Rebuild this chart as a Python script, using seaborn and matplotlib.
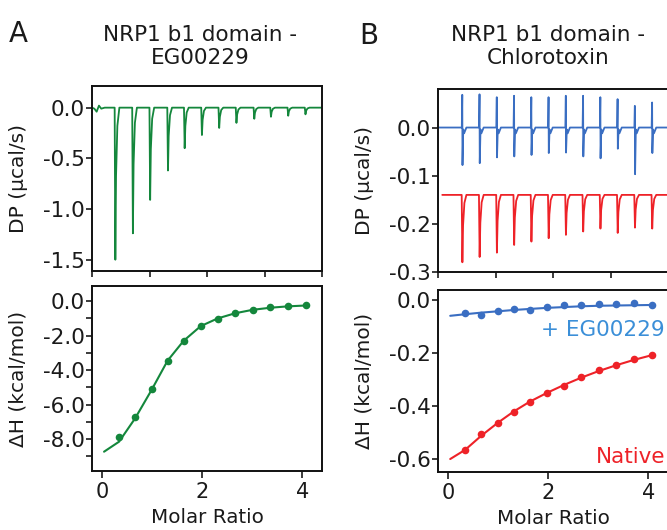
import numpy as np
import pandas as pd
import seaborn as sns
import matplotlib.pyplot as plt

# --- raw thermograms (injection time, peak values) ---
inj_time_a = [4.05, 7.1, 10.1, 13.2, 16.1, 19.1, 22.1, 25.1, 28.2, 31.1, 34.1, 37.1]
peak_a = [-1.50, -1.24, -0.91, -0.62, -0.40, -0.27, -0.20, -0.15, -0.11, -0.09, -0.08, -0.066]
start_t_a = [0.0, 0.4, 0.8, 1.2, 1.6, 2.2]
start_dp_a = [0.0, -0.01, -0.04, 0.02, -0.01, 0.0]

inj_time_b = [4.2, 7.2, 10.2, 13.2, 16.2, 19.2, 22.2, 25.2, 28.2, 31.2, 34.2, 37.2]
blue_up = [0.068, 0.069, 0.063, 0.066, 0.063, 0.063, 0.066, 0.066, 0.063, 0.059, 0.045, 0.052]
blue_down = [-0.078, -0.074, -0.062, -0.060, -0.057, -0.053, -0.052, -0.060, -0.064, -0.044, -0.097, -0.053]
red_base = -0.14
red_peak = [-0.280, -0.269, -0.260, -0.244, -0.237, -0.230, -0.223, -0.216, -0.210, -0.219, -0.208, -0.210]

# --- integrated heats ---
molar_ratio = [0.34, 0.66, 0.99, 1.31, 1.63, 1.97, 2.31, 2.66, 3.01, 3.36, 3.71, 4.07]
dh_eg = [-7.86, -6.74, -5.10, -3.49, -2.29, -1.41, -1.02, -0.67, -0.50, -0.35, -0.29, -0.23]
fit_ratio = [0.04, 0.34, 0.66, 0.99, 1.31, 1.63, 1.97, 2.31, 2.66, 3.01, 3.36, 3.71, 4.07]
fit_eg = [-8.73, -8.15, -6.80, -5.15, -3.45, -2.30, -1.45, -1.00, -0.70, -0.50, -0.38, -0.30, -0.25]

dh_native = [-0.567, -0.506, -0.465, -0.421, -0.383, -0.351, -0.322, -0.288, -0.264, -0.246, -0.221, -0.207]
fit_native = [-0.600, -0.565, -0.512, -0.463, -0.420, -0.383, -0.350, -0.320, -0.292, -0.267, -0.245, -0.225, -0.207]
dh_blocked = [-0.048, -0.054, -0.039, -0.033, -0.037, -0.023, -0.016, -0.018, -0.014, -0.015, -0.009, -0.016]
fit_blocked = [-0.058, -0.052, -0.046, -0.041, -0.036, -0.032, -0.028, -0.025, -0.022, -0.020, -0.019, -0.018, -0.017]

GREEN = "#14873c"
BLUE = "#3a6ec2"
RED = "#ee2228"
INK = "#1a1a1a"
T_END = 40


def dip_trace(times, peaks, base, t0=0.0):
    # sharp drop to the peak value, quick return to baseline
    t, y = [t0], [base]
    for ti, p in zip(times, peaks):
        d = p - base
        t += [ti - 0.12, ti, ti + 0.12, ti + 0.35, ti + 0.7]
        y += [base, p, base + d * 0.45, base + d * 0.12, base]
    t.append(T_END)
    y.append(base)
    return pd.DataFrame({"time": t, "dp": y})


def spike_trace(times, ups, downs):
    t, y = [0.0], [0.0]
    for ti, u, d in zip(times, ups, downs):
        t += [ti - 0.1, ti - 0.02, ti + 0.02, ti + 0.15, ti + 0.3, ti + 0.7]
        y += [0.0, u, d, -0.004, -0.012, 0.0]
    t.append(T_END)
    y.append(0.0)
    return pd.DataFrame({"time": t, "dp": y})


sns.set_theme(style="ticks")
plt.rcParams["font.family"] = ["DejaVu Sans"]
plt.rcParams["axes.unicode_minus"] = False
plt.rcParams["axes.linewidth"] = 1.4
plt.rcParams["xtick.major.width"] = 1.2
plt.rcParams["ytick.major.width"] = 1.2
plt.rcParams["ytick.minor.width"] = 1.2
plt.rcParams["xtick.color"] = INK
plt.rcParams["ytick.color"] = INK
plt.rcParams["text.color"] = INK
plt.rcParams["axes.labelcolor"] = INK

fig = plt.figure(figsize=(6.67, 5.30), dpi=100)
ax_a1 = fig.add_axes([0.138, 0.489, 0.345, 0.349])
ax_a2 = fig.add_axes([0.138, 0.111, 0.345, 0.349])
ax_b1 = fig.add_axes([0.657, 0.487, 0.345, 0.345])
ax_b2 = fig.add_axes([0.657, 0.109, 0.345, 0.344])

# panel A top: raw trace
df_a = dip_trace(inj_time_a, peak_a, 0.0, t0=2.2)
df_start = pd.DataFrame({"time": start_t_a, "dp": start_dp_a})
df_a = pd.concat([df_start, df_a.iloc[1:]], ignore_index=True)
sns.lineplot(data=df_a, x="time", y="dp", ax=ax_a1, color=GREEN, lw=1.3,
             estimator=None, sort=False)
ax_a1.set_xlim(0, T_END)
ax_a1.set_ylim(-1.61, 0.215)
ax_a1.set_yticks([0.0, -0.5, -1.0, -1.5])
ax_a1.set_yticklabels(["0.0", "-0.5", "-1.0", "-1.5"])
ax_a1.set_xticks([0, 10, 20, 30, 40])
ax_a1.set_xticklabels([])

# panel B top: raw traces
df_blue = spike_trace(inj_time_b, blue_up, blue_down)
df_red = dip_trace(inj_time_b, red_peak, red_base, t0=0.7)
sns.lineplot(data=df_blue, x="time", y="dp", ax=ax_b1, color=BLUE, lw=1.3,
             estimator=None, sort=False)
sns.lineplot(data=df_red, x="time", y="dp", ax=ax_b1, color=RED, lw=1.3,
             estimator=None, sort=False)
ax_b1.set_xlim(0, T_END)
ax_b1.set_ylim(-0.3, 0.08)
ax_b1.set_yticks([0.0, -0.1, -0.2, -0.3])
ax_b1.set_yticklabels(["0.0", "-0.1", "-0.2", "-0.3"])
ax_b1.set_xticks([0, 10, 20, 30, 40])
ax_b1.set_xticklabels([])

# panel A bottom: isotherm
sns.lineplot(x=fit_ratio, y=fit_eg, ax=ax_a2, color=GREEN, lw=1.5,
             estimator=None, sort=False)
sns.scatterplot(x=molar_ratio, y=dh_eg, ax=ax_a2, color=GREEN, s=30,
                linewidth=0, zorder=3)
ax_a2.set_ylim(-9.86, 0.87)
ax_a2.set_yticks([0, -2, -4, -6, -8])
ax_a2.set_yticklabels(["0.0", "-2.0", "-4.0", "-6.0", "-8.0"])
ax_a2.set_yticks([-1, -3, -5, -7, -9], minor=True)

# panel B bottom: isotherms
sns.lineplot(x=fit_ratio, y=fit_blocked, ax=ax_b2, color=BLUE, lw=1.5,
             estimator=None, sort=False)
sns.scatterplot(x=molar_ratio, y=dh_blocked, ax=ax_b2, color=BLUE, s=30,
                linewidth=0, zorder=3)
sns.lineplot(x=fit_ratio, y=fit_native, ax=ax_b2, color=RED, lw=1.5,
             estimator=None, sort=False)
sns.scatterplot(x=molar_ratio, y=dh_native, ax=ax_b2, color=RED, s=30,
                linewidth=0, zorder=3)
ax_b2.set_ylim(-0.65, 0.04)
ax_b2.set_yticks([0.0, -0.2, -0.4, -0.6])
ax_b2.set_yticklabels(["0.0", "-0.2", "-0.4", "-0.6"])
ax_b2.text(0.985, 0.78, "+ EG00229", transform=ax_b2.transAxes, ha="right",
           va="center", color="#3b8fd8", fontsize=15.5)
ax_b2.text(0.985, 0.084, "Native", transform=ax_b2.transAxes, ha="right",
           va="center", color=RED, fontsize=15.5)

for ax in (ax_a2, ax_b2):
    ax.set_xlim(-0.2, 4.4)
    ax.set_xticks([0, 2, 4])
    ax.set_xlabel("Molar Ratio", fontsize=14.3, labelpad=4)
    ax.set_ylabel("ΔH (kcal/mol)", fontsize=14.5)
    ax.tick_params(axis="x", labelsize=15, length=5, pad=3)

for ax in (ax_a1, ax_b1):
    ax.set_xlabel("")
    ax.set_ylabel("DP (µcal/s)", fontsize=14.5)
    ax.tick_params(axis="x", length=4)

for ax in (ax_a1, ax_a2, ax_b1, ax_b2):
    ax.tick_params(axis="y", labelsize=15.5, length=4, pad=1.5)
    ax.tick_params(axis="y", which="minor", length=4)
    ax.yaxis.set_label_coords(-0.28, 0.5)
    for sp in ax.spines.values():
        sp.set_visible(True)
        sp.set_color("#111111")

fig.text(0.30, 0.913, "NRP1 b1 domain -\nEG00229", ha="center", va="center",
         fontsize=15.5, linespacing=1.2)
fig.text(0.822, 0.913, "NRP1 b1 domain -\nChlorotoxin", ha="center", va="center",
         fontsize=15.5, linespacing=1.2)
fig.text(0.013, 0.935, "A", ha="left", va="center", fontsize=20)
fig.text(0.539, 0.932, "B", ha="left", va="center", fontsize=20)

fig.savefig("out.png", dpi=100)
